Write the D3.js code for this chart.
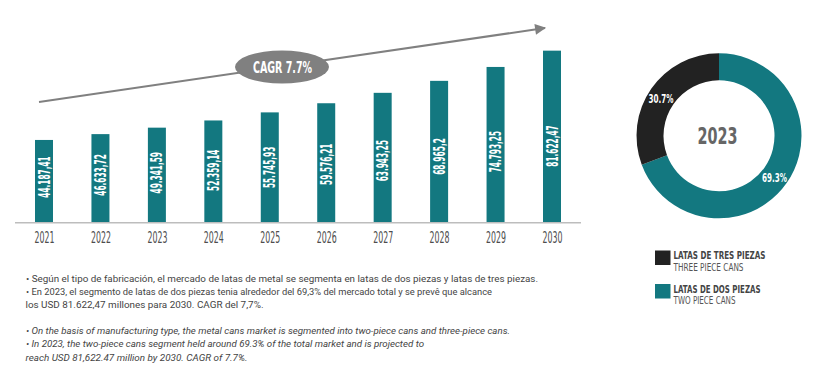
<!DOCTYPE html>
<html>
<head>
<meta charset="utf-8">
<script src="https://cdn.jsdelivr.net/npm/d3@7"></script>
<style>
  body { margin: 0; background: #fff; }
  svg { display: block; }
  .cond { font-family: "Liberation Sans Narrow", "DejaVu Sans Condensed", "Roboto", sans-serif; }
  .note { font-family: "Roboto", "DejaVu Sans", sans-serif; font-size: 9.8px; fill: #444; }
</style>
</head>
<body>
<div id="chart"></div>
<script>
// market size, USD million
const years = ["2021","2022","2023","2024","2025","2026","2027","2028","2029","2030"];
const values = [44187.41, 46633.72, 49341.59, 52359.14, 55745.93, 59576.21, 63943.25, 68965.2, 74793.25, 81622.47];
const valueLabels = ["44.187,41","46.633,72","49.341,59","52.359,14","55.745,93","59.576,21","63.943,25","68.965,2","74.793,25","81.622,47"];
const cagrLabel = "CAGR 7.7%";

// 2023 split
const segNames = ["LATAS DE DOS PIEZAS", "LATAS DE TRES PIEZAS"];
const segNamesEn = ["TWO PIECE CANS", "THREE PIECE CANS"];
const segShares = [69.3, 30.7];
const donutYear = "2023";

const notesEs = [
  ["• Según el tipo de fabricación, el mercado de latas de metal se segmenta en latas de dos piezas y latas de tres piezas.", 512],
  ["• En 2023, el segmento de latas de dos piezas tenia alrededor del 69,3% del mercado total y se prevê que alcance", 466],
  ["los USD 81.622,47 millones para 2030. CAGR del 7,7%.", 238]
];
const notesEn = [
  ["• On the basis of manufacturing type, the metal cans market is segmented into two-piece cans and three-piece cans.", 484],
  ["• In 2023, the two-piece cans segment held around 69.3% of the total market and is projected to", 398],
  ["reach USD 81,622.47 million by 2030. CAGR of 7.7%.", 222]
];

const teal = "#137880", dark = "#222222", grey = "#808080";

const W = 815, H = 375;
const svg = d3.select("#chart").append("svg")
  .attr("width", W).attr("height", H)
  .attr("viewBox", [0, 0, W, H]);

const base = 222.7;
const x = d3.scalePoint().domain(years).range([44, 552]);
const y = d3.scaleLinear().domain([9500, 85000]).range([base, 42.6]);
const barW = 18;

// CAGR arrow
svg.append("defs").append("marker")
  .attr("id", "head")
  .attr("viewBox", "0 0 10 10")
  .attr("refX", 9).attr("refY", 5)
  .attr("markerWidth", 6).attr("markerHeight", 5.5)
  .attr("markerUnits", "strokeWidth")
  .attr("orient", "auto")
  .append("path").attr("d", "M0,0L10,5L0,10Z").attr("fill", grey);

svg.append("line")
  .attr("x1", 39).attr("y1", 102)
  .attr("x2", 545).attr("y2", 28)
  .attr("stroke", grey).attr("stroke-width", 2)
  .attr("marker-end", "url(#head)");

svg.append("ellipse")
  .attr("cx", 282).attr("cy", 67).attr("rx", 47).attr("ry", 16.5)
  .attr("fill", grey);
svg.append("text").attr("class", "cond")
  .attr("x", 282.5).attr("y", 73.3)
  .attr("text-anchor", "middle")
  .attr("font-size", 16).attr("font-weight", "bold")
  .attr("fill", "#fff")
  .attr("textLength", 59).attr("lengthAdjust", "spacingAndGlyphs")
  .text(cagrLabel);

// bars
svg.append("g").selectAll("rect")
  .data(values)
  .join("rect")
  .attr("x", (d, i) => x(years[i]) - barW / 2)
  .attr("y", d => y(d))
  .attr("width", barW)
  .attr("height", d => base - y(d))
  .attr("fill", teal);

// value labels, rotated inside the bars
svg.append("g").selectAll("text")
  .data(values)
  .join("text")
  .attr("class", "cond")
  .attr("transform", (d, i) => {
    const h = base - y(d);
    const cy = base - (17 + 0.347 * h);
    return `translate(${x(years[i]) + 5.6},${cy}) rotate(-90)`;
  })
  .attr("text-anchor", "middle")
  .attr("font-size", 16)
  .attr("font-weight", "bold")
  .attr("fill", "#fff")
  .attr("textLength", (d, i) => valueLabels[i].length * 4.6)
  .attr("lengthAdjust", "spacingAndGlyphs")
  .text((d, i) => valueLabels[i]);

// axis
const axis = svg.append("g")
  .attr("transform", `translate(0,${base})`)
  .call(d3.axisBottom(x).tickSize(0).tickPadding(0));
axis.select(".domain").remove();
axis.append("line")
  .attr("x1", 15).attr("x2", 581)
  .attr("stroke", "#bdbdbd").attr("stroke-width", 1.5);
axis.selectAll(".tick text")
  .attr("class", "cond")
  .attr("dy", 0).attr("y", 20.5)
  .attr("font-size", 15.5)
  .attr("fill", "#4d4d4d")
  .attr("textLength", 20).attr("lengthAdjust", "spacingAndGlyphs");

// donut
const cx = 719, cy = 135.8;
const pie = d3.pie().sort(null).value(d => d);
const arcs = pie(segShares);
const arc = d3.arc().innerRadius(55.5).outerRadius(82.5);
const dg = svg.append("g").attr("transform", `translate(${cx},${cy})`);
dg.selectAll("path")
  .data(arcs)
  .join("path")
  .attr("d", arc)
  .attr("fill", (d, i) => i === 0 ? teal : dark);

const pctPos = [[55.5, 42.2], [-58, -37]];
dg.selectAll("text.pct")
  .data(arcs)
  .join("text")
  .attr("class", "cond pct")
  .attr("x", (d, i) => pctPos[i][0])
  .attr("y", (d, i) => pctPos[i][1] + 4)
  .attr("text-anchor", "middle")
  .attr("font-size", 11.5).attr("font-weight", "bold")
  .attr("fill", "#fff")
  .attr("textLength", 25).attr("lengthAdjust", "spacingAndGlyphs")
  .text(d => d.data.toFixed(1) + "%");

dg.append("text").attr("class", "cond")
  .attr("x", -1.5).attr("y", 7.8)
  .attr("text-anchor", "middle")
  .attr("font-size", 23).attr("font-weight", "bold")
  .attr("fill", "#666")
  .attr("textLength", 40).attr("lengthAdjust", "spacingAndGlyphs")
  .text(donutYear);

// legend (three piece first)
const legOrder = [1, 0];
const lg = svg.append("g").attr("transform", "translate(655,250.5)");
legOrder.forEach((k, j) => {
  const g = lg.append("g").attr("transform", `translate(0,${j * 33.5})`);
  g.append("rect").attr("width", 15.5).attr("height", 14.5)
    .attr("fill", k === 0 ? teal : dark);
  g.append("text").attr("class", "cond")
    .attr("x", 18.5).attr("y", 8.5)
    .attr("font-size", 11.2).attr("font-weight", "bold")
    .attr("fill", "#444")
    .attr("textLength", k === 0 ? 87 : 92).attr("lengthAdjust", "spacingAndGlyphs")
    .text(segNames[k]);
  g.append("text").attr("class", "cond")
    .attr("x", 18.5).attr("y", 20.3)
    .attr("font-size", 10)
    .attr("fill", "#555")
    .attr("textLength", k === 0 ? 62 : 70).attr("lengthAdjust", "spacingAndGlyphs")
    .text(segNamesEn[k]);
});

// notes
const notes = svg.append("g");
notesEs.forEach((n, i) => {
  notes.append("text").attr("class", "note")
    .attr("x", n[0].startsWith("•") ? 26 : 25.5).attr("y", 281.5 + i * 13)
    .attr("textLength", n[1]).attr("lengthAdjust", "spacingAndGlyphs")
    .text(n[0]);
});
notesEn.forEach((n, i) => {
  notes.append("text").attr("class", "note")
    .attr("x", n[0].startsWith("•") ? 26 : 25.5).attr("y", 333.5 + i * 13.5)
    .attr("font-style", "italic")
    .attr("textLength", n[1]).attr("lengthAdjust", "spacingAndGlyphs")
    .text(n[0]);
});
</script>
</body>
</html>
